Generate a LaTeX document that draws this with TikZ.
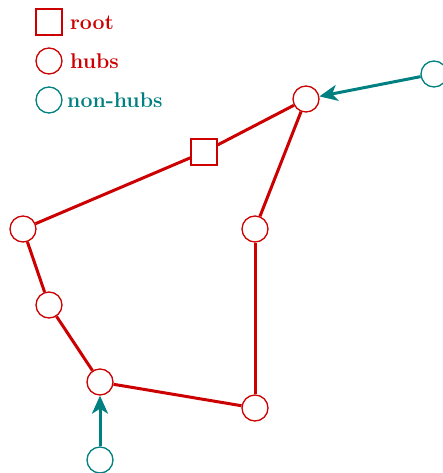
\documentclass[tikz,border=0pt]{standalone}
\usetikzlibrary{arrows.meta}
\definecolor{hubred}{RGB}{204,0,0}
\definecolor{nonhubteal}{RGB}{0,128,128}
\begin{document}
\begin{tikzpicture}[x=1pt,y=-1pt,
  hub/.style={circle,draw=hubred,line width=1.3pt,minimum size=26pt,inner sep=0pt},
  nonhub/.style={circle,draw=nonhubteal,line width=1.3pt,minimum size=26pt,inner sep=0pt},
  rootbox/.style={rectangle,draw=hubred,line width=1.3pt,minimum size=26pt,inner sep=0pt},
  tree/.style={draw=hubred,line width=3pt},
  feed/.style={draw=nonhubteal,line width=3pt,-{Stealth[length=18pt,width=16pt,inset=5pt]}},
  legtext/.style={anchor=base west,inner sep=0pt,font=\fontsize{21.3}{25}\selectfont\bfseries}
]
\useasboundingbox (0,0) rectangle (443,473);

% legend
\node[rootbox] (lroot) at (49,22) {};
\node[hub] (lhub) at (49,61) {};
\node[nonhub] (lnon) at (49,100) {};
\node[legtext,text=hubred] (troot) at (70,30) {root};
\node[legtext,text=hubred] (thub) at (70,69) {hubs};
\node[legtext,text=nonhubteal] (tnon) at (67,108) {non-hubs};

% nodes
\node[rootbox] (r) at (204,152) {};
\node[hub] (a) at (306,99) {};
\node[hub] (b) at (23,229) {};
\node[hub] (c) at (255,229) {};
\node[hub] (d) at (49,305) {};
\node[hub] (e) at (100,382) {};
\node[hub] (f) at (255,408) {};
\node[nonhub] (n1) at (434,74) {};
\node[nonhub] (n2) at (100,460) {};

% hub tree
\draw[tree] (r) -- (a);
\draw[tree] (r) -- (b);
\draw[tree] (a) -- (c);
\draw[tree] (c) -- (f);
\draw[tree] (f) -- (e);
\draw[tree] (e) -- (d);
\draw[tree] (d) -- (b);

% non-hub attachments
\draw[feed] (n1) -- (a);
\draw[feed] (n2) -- (e);
\end{tikzpicture}
\end{document}
